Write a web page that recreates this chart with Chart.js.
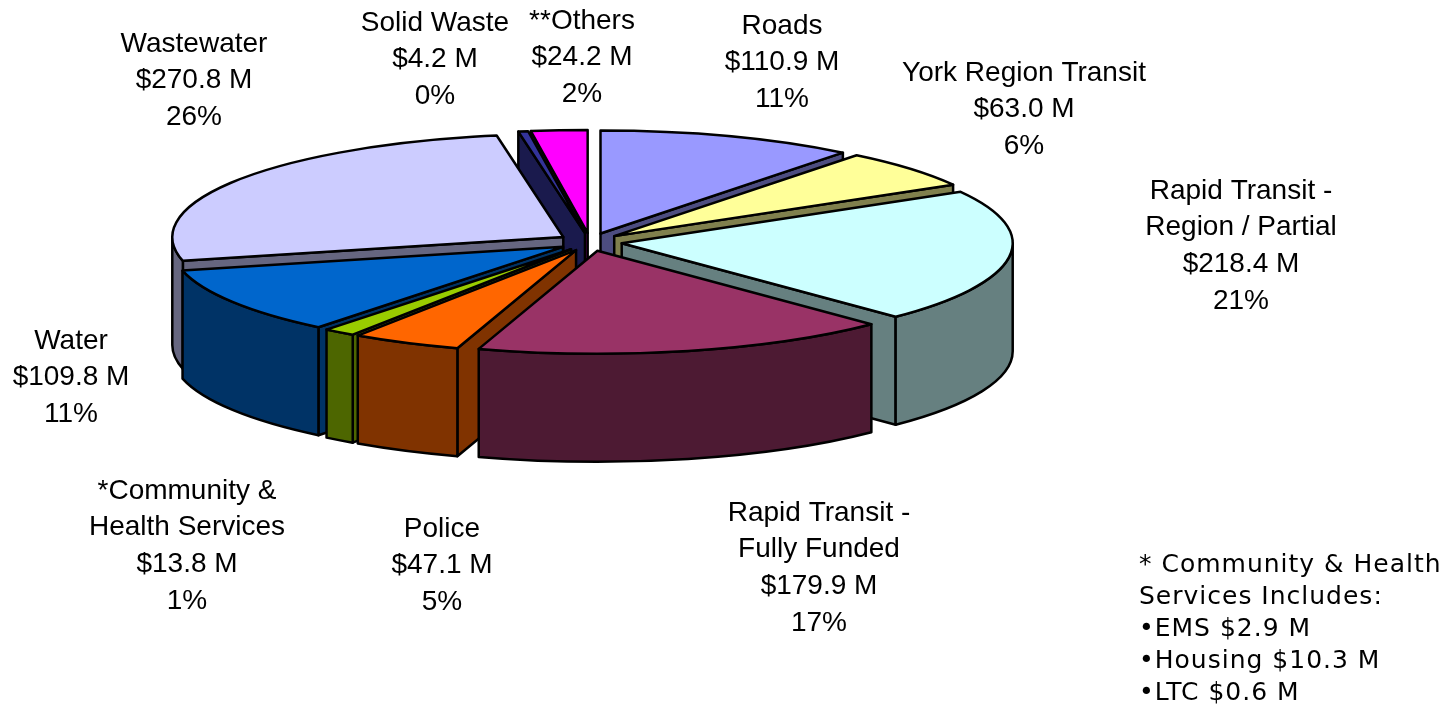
<!DOCTYPE html>
<html>
<head>
<meta charset="utf-8">
<style>
  html, body { margin: 0; padding: 0; background: #fff; }
  #wrap { position: relative; width: 1456px; height: 704px; }
</style>
<script src="https://cdn.jsdelivr.net/npm/chart.js@4"></script>
</head>
<body>
<div id="wrap"><canvas id="chart" width="1456" height="704"></canvas></div>
<script>
const categories = ["Roads", "York Region Transit", "Rapid Transit - Region / Partial", "Rapid Transit - Fully Funded",
  "Police", "*Community & Health Services", "Water", "Wastewater", "Solid Waste", "**Others"];
const nameLines = [["Roads"], ["York Region Transit"], ["Rapid Transit -", "Region / Partial"], ["Rapid Transit -", "Fully Funded"],
  ["Police"], ["*Community &", "Health Services"], ["Water"], ["Wastewater"], ["Solid Waste"], ["**Others"]];
const values = [110.9, 63.0, 218.4, 179.9, 47.1, 13.8, 109.8, 270.8, 4.2, 24.2];
const percents = [11, 6, 21, 17, 5, 1, 11, 26, 0, 2];
const topColors = ["#9999FF", "#FFFF99", "#CCFFFF", "#993366", "#FF6600", "#99CC00", "#0066CC", "#CCCCFF", "#333399", "#FF00FF"];
const wallColors = ["#4D4D80", "#80804D", "#668080", "#4D1A33", "#803300", "#4D6600", "#003366", "#666680", "#1A1A4D", "#800080"];
const footnote = ["* Community & Health", "Services Includes:", "•EMS $2.9 M", "•Housing $10.3 M", "•LTC $0.6 M"];

// label anchor: centre x, centre y of the first line
const labelPos = [[782, 26], [1024, 73], [1241, 191], [819, 513], [442, 529], [187, 491], [71, 341], [194, 44], [435, 23], [582, 21]];

const RX = 391, RY = 103, DEPTH = 108, EX = 32, EY = 9;

function geom(arc) {
  const mid = (arc.startAngle + arc.endAngle) / 2;
  return {
    x: arc.x + Math.cos(mid) * EX,
    y: arc.y + Math.sin(mid) * EY,
    a0: arc.startAngle,
    a1: arc.endAngle
  };
}

function edge(g, a, dy) {
  return [g.x + RX * Math.cos(a), g.y + dy + RY * Math.sin(a)];
}

function paint(ctx, fill) {
  ctx.closePath();
  ctx.fillStyle = fill;
  ctx.fill();
  ctx.stroke();
}

function drawRadialWall(ctx, g, a, fill) {
  const p = edge(g, a, 0);
  ctx.beginPath();
  ctx.moveTo(g.x, g.y);
  ctx.lineTo(p[0], p[1]);
  ctx.lineTo(p[0], p[1] + DEPTH);
  ctx.lineTo(g.x, g.y + DEPTH);
  paint(ctx, fill);
}

function drawOuterWall(ctx, g, fill) {
  // only the part of the rim that faces the viewer
  const from = Math.max(g.a0, 0), to = Math.min(g.a1, Math.PI);
  if (to > from) {
    ctx.beginPath();
    ctx.ellipse(g.x, g.y, RX, RY, 0, from, to);
    ctx.ellipse(g.x, g.y + DEPTH, RX, RY, 0, to, from, true);
    paint(ctx, fill);
  }
}

const pie3d = {
  id: "pie3d",
  beforeDatasetDraw(chart) {
    const ctx = chart.ctx;
    const arcs = chart.getDatasetMeta(0).data;
    const list = arcs.map((arc, i) => ({ g: geom(arc), i: i }));
    ctx.save();
    ctx.lineWidth = 2.5;
    ctx.lineJoin = "round";
    ctx.strokeStyle = "#000";

    // walls, back to front
    list.slice().sort((p, q) => Math.sin((p.g.a0 + p.g.a1) / 2) - Math.sin((q.g.a0 + q.g.a1) / 2)).forEach((s) => {
      const fill = wallColors[s.i];
      // start edge faces the viewer on the left half, end edge on the right half
      if (Math.cos(s.g.a0) < 0) drawRadialWall(ctx, s.g, s.g.a0, fill);
      if (Math.cos(s.g.a1) > 0) drawRadialWall(ctx, s.g, s.g.a1, fill);
      drawOuterWall(ctx, s.g, fill);
    });

    // top faces
    list.forEach((s) => {
      ctx.beginPath();
      ctx.moveTo(s.g.x, s.g.y);
      ctx.ellipse(s.g.x, s.g.y, RX, RY, 0, s.g.a0, s.g.a1);
      paint(ctx, topColors[s.i]);
    });
    ctx.restore();
    return false;
  },
  afterDraw(chart) {
    const ctx = chart.ctx;
    ctx.save();
    ctx.fillStyle = "#000";
    ctx.textAlign = "center";
    ctx.textBaseline = "middle";
    ctx.font = '28px "Liberation Sans"';
    categories.forEach((c, i) => {
      const lines = nameLines[i].concat(["$" + values[i].toFixed(1) + " M", percents[i] + "%"]);
      lines.forEach((t, k) => ctx.fillText(t, labelPos[i][0], labelPos[i][1] + k * 36.7));
    });
    ctx.textAlign = "left";
    ctx.font = '25px "DejaVu Sans"';
    ctx.letterSpacing = "1px";
    footnote.forEach((t, k) => ctx.fillText(t, 1139, 565 + k * 32));
    ctx.restore();
  }
};

new Chart(document.getElementById("chart"), {
  type: "pie",
  data: {
    labels: categories,
    datasets: [{ data: values, backgroundColor: topColors, borderWidth: 0 }]
  },
  options: {
    responsive: false,
    animation: false,
    layout: { padding: { right: 276, bottom: 220 } },
    plugins: { legend: { display: false }, tooltip: { enabled: false } }
  },
  plugins: [pie3d]
});
</script>
</body>
</html>
